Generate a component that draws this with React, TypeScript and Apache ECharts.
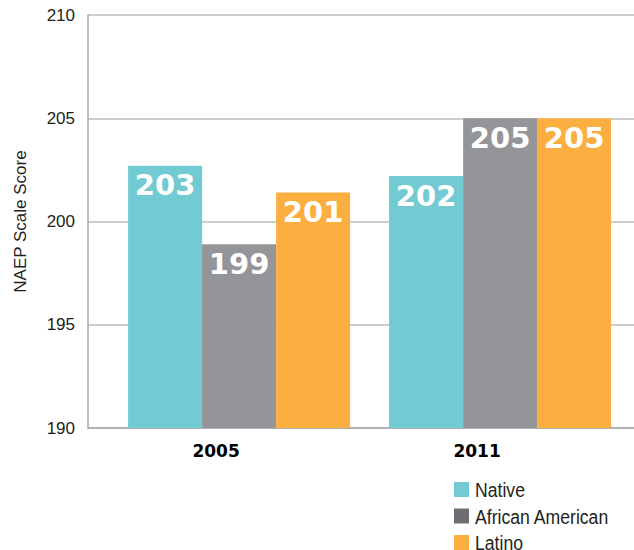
import React, { useEffect, useRef } from "react";
import * as echarts from "echarts";

const categories = ["2005", "2011"];
const seriesNames = ["Native", "African American", "Latino"];
const nativeScores = [202.7, 202.2];
const africanAmericanScores = [198.9, 205.0];
const latinoScores = [201.4, 205.0];
const yMin = 190;
const yMax = 210;
const yInterval = 5;

const barColors = ["#72CAD2", "#949599", "#FBAF41"];
const legendColors = ["#72CAD2", "#6D6E72", "#FBAF41"];

export default function App() {
  const ref = useRef<HTMLDivElement>(null);
  useEffect(() => {
    if (!ref.current) return;
    const chart = echarts.init(ref.current, undefined, { renderer: "svg" });
    const values = [nativeScores, africanAmericanScores, latinoScores];
    const legendX = 454;
    const legendTop = 482;
    const legendRow = 26.5;
    const legendItems = seriesNames.map((n, i) => ({
      type: "group",
      x: legendX,
      y: legendTop + i * legendRow,
      children: [
        {
          type: "rect",
          shape: { x: 0, y: 0, width: 15, height: 15 },
          style: { fill: legendColors[i] },
        },
        {
          type: "text",
          x: 21,
          y: 7.5,
          scaleX: 0.84,
          style: {
            text: n,
            fontFamily: "'Liberation Sans', Arial, sans-serif",
            fontSize: 21,
            fill: "#231f20",
            verticalAlign: "middle",
            align: "left",
          },
        },
      ],
    }));
    const option: any = {
      animation: false,
      backgroundColor: "#ffffff",
      grid: [
        { left: 88, right: 0, top: 15, bottom: 122 },
        { left: 108.6, right: 3.4, top: 15, bottom: 122 },
      ],
      graphic: legendItems,
      xAxis: [
        {
          gridIndex: 0,
          type: "category",
          data: categories,
          axisLine: { show: true, lineStyle: { color: "#a7a9ac", width: 1.5 } },
          axisTick: { show: false },
          axisLabel: { show: false },
          splitLine: { show: false },
        },
        {
          gridIndex: 1,
          type: "category",
          data: categories,
          axisLine: { show: false },
          axisTick: { show: false },
          axisLabel: {
            margin: 14,
            fontFamily: "'DejaVu Sans', sans-serif",
            fontWeight: "bold",
            fontSize: 17,
            color: "#000000",
            padding: [0, 46, 0, 0],
          },
        },
      ],
      yAxis: [
        {
          gridIndex: 0,
          type: "value",
          min: yMin,
          max: yMax,
          interval: yInterval,
          name: "NAEP Scale Score",
          nameLocation: "middle",
          nameRotate: 90,
          nameGap: 59,
          nameTextStyle: {
            fontFamily: "'Liberation Sans', Arial, sans-serif",
            fontSize: 17,
            color: "#231f20",
          },
          axisLine: { show: true, lineStyle: { color: "#a7a9ac", width: 1.5 } },
          axisTick: { show: false },
          axisLabel: {
            margin: 13,
            fontFamily: "'Liberation Sans', Arial, sans-serif",
            fontSize: 17,
            color: "#231f20",
          },
          splitLine: { show: true, lineStyle: { color: "#bcbec0", width: 1.5 } },
        },
        {
          gridIndex: 1,
          type: "value",
          min: yMin,
          max: yMax,
          interval: yInterval,
          show: false,
          splitLine: { show: false },
        },
      ],
      series: seriesNames.map((name, i) => ({
        name,
        type: "bar",
        xAxisIndex: 1,
        yAxisIndex: 1,
        data: values[i],
        barWidth: 74,
        barGap: "0%",
        itemStyle: { color: barColors[i] },
        label: {
          show: true,
          position: "insideTop",
          distance: 5,
          formatter: (p: any) => String(Math.round(p.value)),
          fontFamily: "'DejaVu Sans', sans-serif",
          fontWeight: "bold",
          fontSize: 29,
          color: "#ffffff",
        },
      })),
    };
    chart.setOption(option);
    return () => chart.dispose();
  }, []);
  return (
    <div
      ref={ref}
      style={{ position: "absolute", left: 0, top: 0, width: 634, height: 550 }}
    />
  );
}
